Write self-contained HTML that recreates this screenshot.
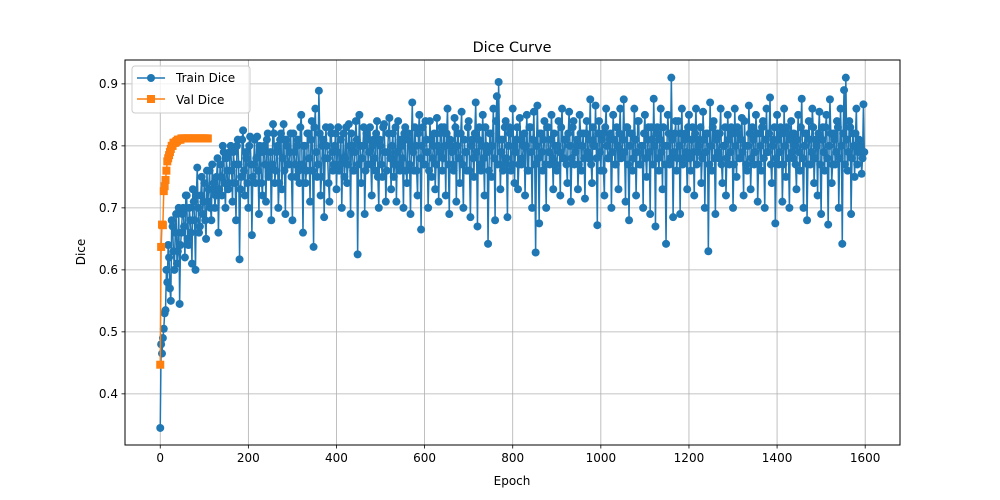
<!DOCTYPE html>
<html><head><meta charset="utf-8"><style>
html,body{margin:0;padding:0;background:#fff;}
svg{display:block;font-family:"DejaVu Sans","Liberation Sans",sans-serif;}
</style></head><body>
<svg id="chart" width="1000" height="500" viewBox="0 0 1000 500">
<rect x="0" y="0" width="1000" height="500" fill="#fff"/>
<g id="grid"></g>
<g id="series"></g>
<rect x="125" y="60" width="775" height="385" fill="none" stroke="#000" stroke-width="1"/>
<g id="axes"></g>
<text x="512" y="52" text-anchor="middle" font-size="14.4">Dice Curve</text>
<text x="512" y="485" text-anchor="middle" font-size="12">Epoch</text>
<text x="85" y="252" text-anchor="middle" font-size="12" transform="rotate(-90 85 252)">Dice</text>
<g>
<rect x="132" y="66" width="118" height="47" rx="3" fill="#fff" fill-opacity="0.8" stroke="#ccc"/>
<g>
<line x1="137" y1="78" x2="165" y2="78" stroke="#1f77b4" stroke-width="1.5"/>
<circle cx="151" cy="78" r="4" fill="#1f77b4"/>
<text x="176" y="82" font-size="12">Train Dice</text></g>
<g>
<line x1="137" y1="99" x2="165" y2="99" stroke="#ff7f0e" stroke-width="1.5"/>
<rect x="147" y="95" width="8" height="8" fill="#ff7f0e"/>
<text x="176" y="104" font-size="12">Val Dice</text></g>
</g>
</svg>
<script>
// Train dice at epochs 0,4,8,...
const trainDiceA = [
0.345,0.465,0.505,0.535,0.58,0.62,0.55,0.67,0.60,0.69,0.63,0.545,0.66,0.70,0.62,0.72,0.64,0.68,0.61,0.71,
0.60,0.765,0.66,0.72,0.69,0.74,0.65,0.71,0.76,0.68,0.73,0.70,0.75,0.66,0.77,0.72,0.79,0.70,0.76,0.74,
0.80,0.71,0.77,0.68,0.81,0.617,0.75,0.825,0.72,0.78,0.70,0.815,0.656,0.77,0.74,0.815,0.69,0.79,0.72,0.80,
0.71,0.82,0.76,0.68,0.835,0.74,0.79,0.70,0.81,0.73,0.835,0.69,0.80,0.77,0.82,0.68,0.79,0.75,0.81,0.74,
0.85,0.66,0.80,0.76,0.82,0.71,0.84,0.637,0.86,0.75,0.889,0.72,0.80,0.685,0.83,0.78,0.71,0.82,0.76,0.80,
0.73,0.83,0.77,0.70,0.82,0.78,0.74,0.835,0.69,0.80,0.76,0.84,0.625,0.85,0.74,0.80,0.69,0.82,0.77,0.83,
0.72,0.81,0.76,0.84,0.70,0.80,0.75,0.835,0.71,0.79,0.845,0.73,0.82,0.77,0.71,0.84,0.76,0.80,0.70,0.83,
0.74,0.82,0.69,0.87,0.76,0.80,0.72,0.85,0.665,0.83,0.77,0.81,0.70,0.84,0.75,0.80,0.73,0.845,0.71,0.82,
0.76,0.83,0.72,0.86,0.69,0.80,0.77,0.845,0.71,0.82,0.74,0.855,0.70,0.79,0.76,0.84,0.685,0.81,0.75,0.87,
0.67,0.83,0.76,0.85,0.72,0.80,0.642,0.82,0.75,0.86,0.68,0.88,0.903,0.73,0.81,0.77,0.84,0.685,0.83,0.76,
0.86,0.74,0.81,0.73,0.845,0.77,0.80,0.72,0.85,0.76,0.83,0.70,0.855,0.628,0.865,0.675,0.82,0.76,0.84,0.70,
0.83,0.77,0.85,0.73,0.80,0.76,0.84,0.72,0.86,0.78,0.81,0.74,0.855,0.71,0.83,0.77,0.80,0.73,0.85,0.76,
0.82,0.715,0.84,0.78,0.875,0.74,0.80,0.865,0.672,0.84,0.76,0.82,0.72,0.86,0.78,0.81,0.70,0.85,0.77,0.83,
0.73,0.86,0.79,0.875,0.71,0.83,0.68,0.82,0.76,0.86,0.72,0.84,0.77,0.80,0.70,0.85,0.75,0.83,0.69,0.81,
0.876,0.67,0.83,0.76,0.86,0.73,0.80,0.642,0.85,0.77,0.91,0.685,0.82,0.76,0.84,0.69,0.86,0.78,0.82,0.73,
0.85,0.76,0.83,0.72,0.86,0.79,0.81,0.74,0.855,0.70,0.82,0.63,0.87,0.76,0.84,0.69,0.82,0.78,0.86,0.74,
0.80,0.72,0.85,0.77,0.83,0.70,0.86,0.75,0.82,0.78,0.845,0.72,0.80,0.76,0.865,0.73,0.83,0.77,0.85,0.71,
0.82,0.76,0.84,0.70,0.86,0.79,0.878,0.74,0.81,0.675,0.85,0.77,0.83,0.71,0.86,0.75,0.82,0.70,0.84,0.78,
0.80,0.73,0.85,0.76,0.876,0.70,0.82,0.68,0.84,0.77,0.86,0.74,0.81,0.72,0.855,0.69,0.83,0.76,0.85,0.673,
0.875,0.74,0.82,0.77,0.84,0.70,0.86,0.642,0.89,0.91,0.76,0.84,0.69,0.82,0.75,0.86,0.79,0.80,0.755,0.867
];
// Train dice at epochs 2,6,10,...
const trainDiceB = [
0.48,0.49,0.53,0.60,0.64,0.57,0.68,0.63,0.66,0.61,0.70,0.64,0.69,0.67,0.72,0.65,0.70,0.66,0.73,0.68,
0.72,0.70,0.67,0.75,0.71,0.68,0.76,0.73,0.70,0.77,0.74,0.72,0.78,0.73,0.75,0.80,0.74,0.78,0.73,0.79,
0.76,0.79,0.74,0.80,0.77,0.73,0.81,0.76,0.79,0.74,0.80,0.77,0.75,0.81,0.78,0.76,0.80,0.74,0.79,0.77,
0.81,0.75,0.79,0.77,0.82,0.76,0.80,0.74,0.82,0.78,0.76,0.81,0.77,0.79,0.75,0.82,0.77,0.80,0.76,0.83,
0.77,0.80,0.74,0.82,0.78,0.81,0.76,0.83,0.79,0.77,0.82,0.75,0.81,0.78,0.80,0.74,0.83,0.79,0.77,0.82,
0.79,0.76,0.81,0.78,0.75,0.83,0.77,0.80,0.82,0.76,0.79,0.81,0.77,0.80,0.78,0.83,0.76,0.81,0.79,0.77,
0.80,0.78,0.82,0.75,0.81,0.77,0.83,0.79,0.76,0.82,0.78,0.80,0.75,0.83,0.79,0.77,0.81,0.78,0.82,0.76,
0.81,0.77,0.80,0.79,0.83,0.76,0.82,0.78,0.80,0.77,0.84,0.79,0.76,0.81,0.78,0.82,0.77,0.80,0.79,0.83,
0.78,0.80,0.82,0.77,0.81,0.79,0.76,0.83,0.80,0.78,0.82,0.77,0.81,0.79,0.83,0.76,0.80,0.78,0.82,0.79,
0.81,0.77,0.80,0.78,0.83,0.79,0.76,0.82,0.80,0.78,0.84,0.77,0.81,0.79,0.76,0.83,0.78,0.80,0.82,0.77,
0.80,0.79,0.83,0.77,0.81,0.78,0.82,0.80,0.76,0.83,0.79,0.81,0.77,0.80,0.78,0.82,0.79,0.81,0.77,0.83,
0.79,0.81,0.78,0.82,0.77,0.80,0.79,0.83,0.78,0.81,0.77,0.82,0.80,0.78,0.84,0.79,0.81,0.77,0.82,0.80,
0.78,0.82,0.79,0.81,0.77,0.83,0.80,0.78,0.82,0.79,0.81,0.76,0.83,0.80,0.78,0.82,0.79,0.81,0.77,0.80,
0.82,0.78,0.81,0.79,0.83,0.77,0.80,0.82,0.78,0.81,0.79,0.84,0.77,0.80,0.82,0.78,0.81,0.79,0.83,0.77,
0.80,0.82,0.78,0.81,0.79,0.83,0.77,0.80,0.82,0.78,0.81,0.79,0.84,0.78,0.80,0.82,0.77,0.81,0.79,0.83,
0.78,0.81,0.79,0.82,0.77,0.80,0.83,0.78,0.81,0.79,0.82,0.77,0.80,0.83,0.78,0.81,0.79,0.82,0.77,0.80,
0.83,0.78,0.81,0.79,0.82,0.77,0.80,0.83,0.78,0.81,0.79,0.84,0.77,0.80,0.82,0.78,0.81,0.79,0.82,0.77,
0.80,0.83,0.78,0.81,0.79,0.82,0.77,0.80,0.83,0.78,0.81,0.79,0.82,0.77,0.80,0.83,0.78,0.81,0.79,0.82,
0.77,0.81,0.79,0.83,0.78,0.80,0.82,0.77,0.81,0.79,0.83,0.78,0.80,0.82,0.77,0.81,0.79,0.83,0.78,0.80,
0.82,0.77,0.81,0.79,0.83,0.78,0.80,0.82,0.77,0.81,0.79,0.83,0.78,0.80,0.82,0.77,0.81,0.79,0.78,0.79
];
const valStep = 2;
const valDice = [0.447,0.637,0.673,0.672,0.727,0.735,0.745,0.76,0.775,0.78,0.785,0.79,0.795,0.80,0.80,0.805,0.805,0.805,0.807,0.808,0.81,0.81,0.81,0.81,0.812,0.812,0.812,0.812,0.812,0.812,0.812,0.812,0.812,0.812,0.812,0.812,0.812,0.812,0.812,0.812,0.812,0.812,0.812,0.812,0.812,0.812,0.812,0.812,0.812,0.812,0.812,0.812,0.812,0.812,0.812];
const xTicks = [0,200,400,600,800,1000,1200,1400,1600];
const yTicks = [0.4,0.5,0.6,0.7,0.8,0.9];

const NS="http://www.w3.org/2000/svg";
const X0=125,X1=900,Y0=60,Y1=445;
const xMin=-80,xMax=1679,yMin=0.3175,yMax=0.9385;
const sx=v=>X0+(v-xMin)/(xMax-xMin)*(X1-X0);
const sy=v=>Y1-(v-yMin)/(yMax-yMin)*(Y1-Y0);
function mk(t,a,p){const e=document.createElementNS(NS,t);for(const k in a)e.setAttribute(k,a[k]);p.appendChild(e);return e;}
const grid=document.getElementById('grid'),axes=document.getElementById('axes'),ser=document.getElementById('series');
xTicks.forEach(v=>{const x=sx(v);
const g=mk('line',{x1:x,x2:x,y1:Y0,y2:Y1,stroke:'#b0b0b0','stroke-width':0.8},grid);


mk('line',{x1:x,x2:x,y1:Y1,y2:Y1+3.5,stroke:'#000','stroke-width':0.8},axes);
const t=mk('text',{x:x,y:Y1+17,'text-anchor':'middle','font-size':12},axes);t.textContent=v;

});
yTicks.forEach(v=>{const y=sy(v);
const g=mk('line',{x1:X0,x2:X1,y1:y,y2:y,stroke:'#b0b0b0','stroke-width':0.8},grid);


mk('line',{x1:X0-3.5,x2:X0,y1:y,y2:y,stroke:'#000','stroke-width':0.8},axes);
const t=mk('text',{x:X0-7,y:y+4,'text-anchor':'end','font-size':12},axes);t.textContent=v.toFixed(1);

});

const trainPts=[];
trainDiceA.forEach((v,i)=>{trainPts.push([i*4,v]);if(i<trainDiceB.length)trainPts.push([i*4+2,trainDiceB[i]]);});
const valPts=valDice.map((v,i)=>[i*valStep,v]);

function series(pts,color,shape,name){
const g=mk('g',{},ser);


mk('polyline',{points:pts.map(p=>sx(p[0]).toFixed(2)+','+sy(p[1]).toFixed(2)).join(' '),fill:'none',stroke:color,'stroke-width':1.5,'stroke-linejoin':'round'},g);
pts.forEach(p=>{const x=sx(p[0]),y=sy(p[1]);let m;
if(shape==='c')m=mk('circle',{cx:x,cy:y,r:4,fill:color},g);
else m=mk('rect',{x:x-4,y:y-4,width:8,height:8,fill:color},g);

});}
series(trainPts,'#1f77b4','c','train-dice-series');
series(valPts,'#ff7f0e','s','val-dice-series');
</script>
</body></html>
